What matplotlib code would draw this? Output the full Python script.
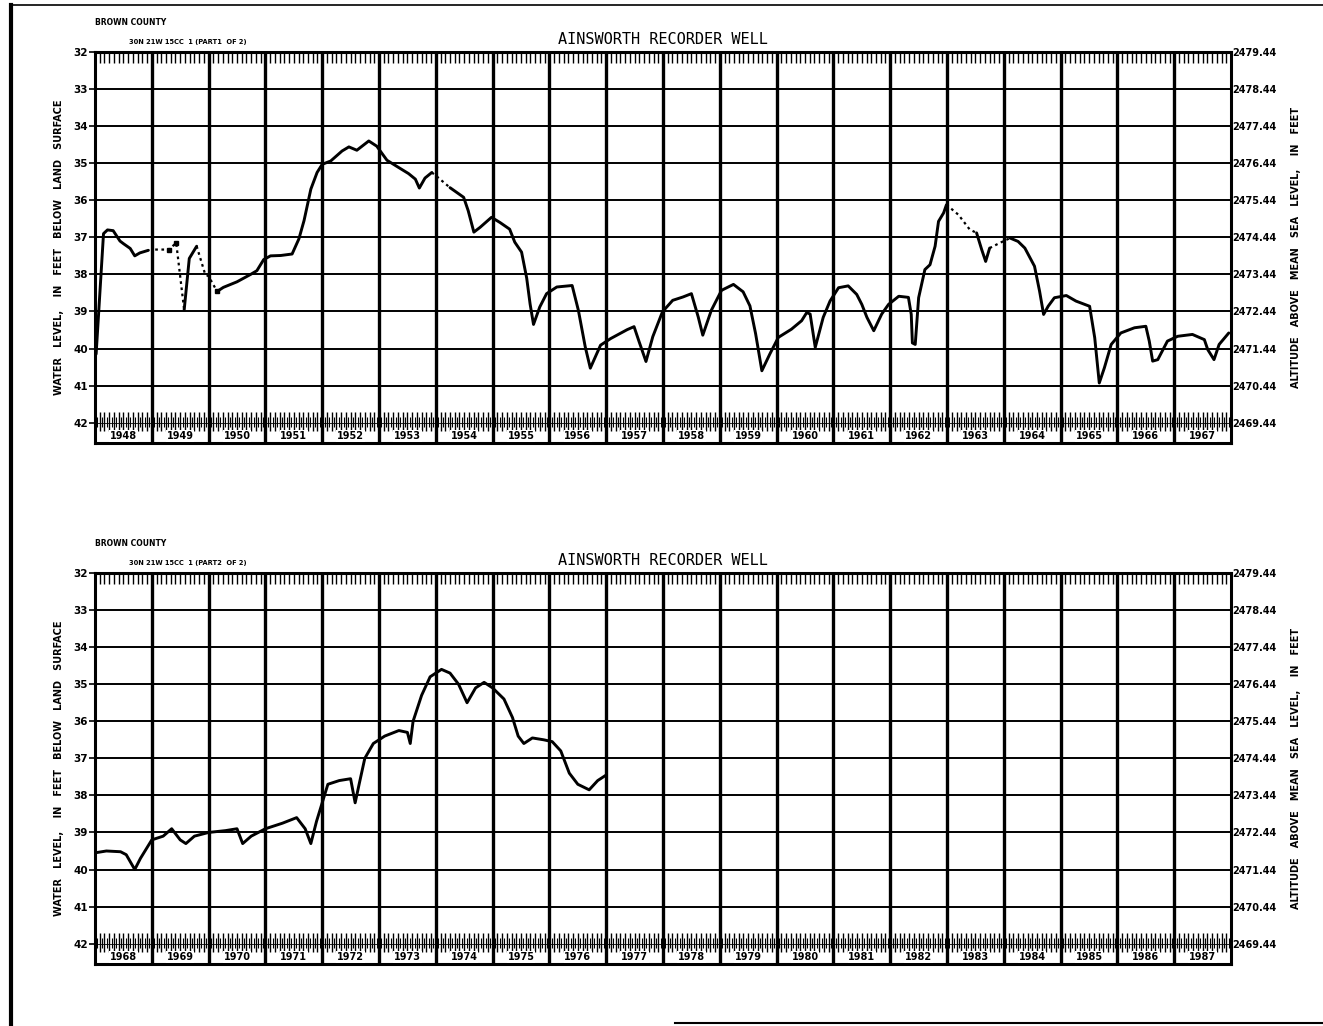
import numpy as np
import matplotlib
matplotlib.use('Agg')
import matplotlib.pyplot as plt

# water level, feet below land surface, Ainsworth recorder well
# part 1: 1948-1967
top_year = [1948.02, 1948.15, 1948.22, 1948.32, 1948.44, 1948.50, 1948.62, 1948.70, 1948.79, 1948.94,
            1949.06, 1949.30, 1949.43, 1949.57, 1949.66, 1949.79, 1949.94, 1950.00, 1950.15, 1950.26,
            1950.50, 1950.74, 1950.85, 1950.97, 1951.09, 1951.27, 1951.47, 1951.59, 1951.68, 1951.80,
            1951.91, 1952.00, 1952.15, 1952.35, 1952.47, 1952.61, 1952.82, 1952.96, 1953.14, 1953.35,
            1953.52, 1953.64, 1953.71, 1953.81, 1953.93, 1954.05, 1954.25, 1954.49, 1954.57, 1954.67,
            1954.78, 1954.98, 1955.13, 1955.30, 1955.39, 1955.51, 1955.60, 1955.66, 1955.72, 1955.83,
            1955.95, 1956.13, 1956.40, 1956.51, 1956.63, 1956.72, 1956.90, 1957.08, 1957.37, 1957.49,
            1957.58, 1957.70, 1957.82, 1957.99, 1958.17, 1958.35, 1958.50, 1958.62, 1958.70, 1958.85,
            1959.03, 1959.24, 1959.41, 1959.53, 1959.63, 1959.74, 1959.88, 1960.03, 1960.26, 1960.44,
            1960.53, 1960.59, 1960.68, 1960.82, 1960.94, 1961.09, 1961.26, 1961.41, 1961.50, 1961.59,
            1961.71, 1961.85, 1961.97, 1962.15, 1962.32, 1962.37, 1962.39, 1962.44, 1962.50, 1962.61,
            1962.70, 1962.79, 1962.85, 1962.94, 1962.99, 1963.20, 1963.40, 1963.52, 1963.61, 1963.68,
            1963.75, 1963.93, 1964.11, 1964.25, 1964.37, 1964.54, 1964.63, 1964.70, 1964.78, 1964.89,
            1965.10, 1965.27, 1965.51, 1965.60, 1965.68, 1965.77, 1965.89, 1966.06, 1966.30, 1966.50,
            1966.56, 1966.62, 1966.71, 1966.88, 1967.06, 1967.32, 1967.53, 1967.59, 1967.70, 1967.79,
            1967.96]
top_depth = [40.15, 36.90, 36.80, 36.82, 37.10, 37.17, 37.30, 37.50, 37.42, 37.35,
             37.33, 37.33, 37.15, 38.96, 37.57, 37.24, 38.00, 38.05, 38.46, 38.35,
             38.20, 38.00, 37.90, 37.60, 37.50, 37.49, 37.45, 37.04, 36.55, 35.70,
             35.25, 35.03, 34.94, 34.67, 34.56, 34.65, 34.40, 34.54, 34.92, 35.12,
             35.28, 35.43, 35.67, 35.40, 35.25, 35.40, 35.66, 35.92, 36.28, 36.86,
             36.73, 36.46, 36.60, 36.78, 37.13, 37.40, 38.10, 38.80, 39.35, 38.88,
             38.52, 38.34, 38.30, 38.97, 39.95, 40.53, 39.91, 39.73, 39.49, 39.41,
             39.82, 40.35, 39.68, 39.01, 38.70, 38.61, 38.52, 39.15, 39.64, 38.97,
             38.43, 38.27, 38.47, 38.85, 39.60, 40.60, 40.15, 39.70, 39.48, 39.25,
             39.03, 39.07, 39.97, 39.16, 38.72, 38.36, 38.31, 38.54, 38.81, 39.16,
             39.52, 39.07, 38.81, 38.59, 38.62, 39.08, 39.85, 39.89, 38.63, 37.87,
             37.74, 37.24, 36.57, 36.34, 36.12, 36.39, 36.79, 36.88, 37.33, 37.65,
             37.29, 37.15, 37.02, 37.11, 37.29, 37.78, 38.46, 39.08, 38.86, 38.63,
             38.57, 38.72, 38.86, 39.71, 40.93, 40.52, 39.89, 39.58, 39.44, 39.40,
             39.80, 40.34, 40.30, 39.80, 39.67, 39.62, 39.76, 40.03, 40.30, 39.89,
             39.58]
# spans with estimated (dotted) record, and spans with no record
top_dotted = [(1949.06, 1949.57), (1949.79, 1950.15), (1953.93, 1954.25),
              (1962.99, 1963.52), (1963.75, 1964.11)]
top_gaps = [(1948.94, 1949.06)]
top_marks_year = [1949.30, 1949.43, 1950.15]
top_marks_depth = [37.33, 37.15, 38.46]

# part 2: 1968-1987
bot_year = [1968.00, 1968.20, 1968.45, 1968.55, 1968.70, 1968.80, 1969.00, 1969.20, 1969.35, 1969.50,
            1969.60, 1969.75, 1970.00, 1970.30, 1970.50, 1970.60, 1970.75, 1971.00, 1971.30, 1971.55,
            1971.70, 1971.80, 1971.90, 1972.00, 1972.10, 1972.30, 1972.50, 1972.58, 1972.65, 1972.75,
            1972.90, 1973.10, 1973.35, 1973.50, 1973.55, 1973.60, 1973.75, 1973.90, 1974.10, 1974.25,
            1974.40, 1974.55, 1974.70, 1974.85, 1975.00, 1975.20, 1975.35, 1975.45, 1975.55, 1975.70,
            1975.90, 1976.05, 1976.20, 1976.35, 1976.50, 1976.70, 1976.85, 1977.00]
bot_depth = [39.55, 39.50, 39.52, 39.60, 40.00, 39.70, 39.20, 39.10, 38.90, 39.20,
             39.30, 39.10, 39.00, 38.95, 38.90, 39.30, 39.10, 38.90, 38.75, 38.60,
             38.90, 39.30, 38.70, 38.20, 37.70, 37.60, 37.55, 38.20, 37.70, 37.00,
             36.60, 36.40, 36.25, 36.30, 36.60, 36.00, 35.30, 34.80, 34.60, 34.70,
             35.00, 35.50, 35.10, 34.95, 35.10, 35.40, 35.90, 36.40, 36.60, 36.45,
             36.50, 36.55, 36.80, 37.40, 37.70, 37.85, 37.60, 37.45]
bot_dotted = []
bot_gaps = []

depth_ticks = list(range(32, 43))
datum = 2511.44  # land-surface altitude, feet above sea level


def draw_record(ax, years, depths, dotted, gaps):
    years = np.asarray(years)
    depths = np.asarray(depths)
    mids = (years[:-1] + years[1:]) / 2

    def kind(m):
        for a, b in gaps:
            if a <= m <= b:
                return 'gap'
        for a, b in dotted:
            if a <= m <= b:
                return 'dot'
        return 'solid'

    kinds = [kind(m) for m in mids]
    start = 0
    for i in range(1, len(kinds) + 1):
        if i == len(kinds) or kinds[i] != kinds[start]:
            seg = slice(start, i + 1)
            if kinds[start] == 'solid':
                ax.plot(years[seg], depths[seg], color='black', lw=2.1,
                        solid_capstyle='round', zorder=5)
            elif kinds[start] == 'dot':
                ax.plot(years[seg], depths[seg], color='black', lw=1.6,
                        linestyle=(0, (1.2, 1.6)), zorder=5)
            start = i


def draw_panel(ax, first_year, part):
    years = np.arange(first_year, first_year + 20)
    x0, x1 = first_year, first_year + 20
    ax.set_xlim(x0, x1)
    ax.set_ylim(42.55, 32)

    # feet grid
    for d in range(33, 42):
        ax.axhline(d, color='black', lw=1.4, zorder=2)
    # year grid
    for y in years[1:]:
        ax.axvline(y, color='black', lw=2.4, zorder=3)

    # month ticks along top and bottom
    months = np.array([y + m / 12 for y in years for m in range(1, 12)])
    ax.vlines(months, 32, 32.3, color='black', lw=1.0, zorder=2)
    ax.vlines(months, 41.72, 42.22, color='black', lw=1.0, zorder=2)
    half = np.array([y + (m + 0.5) / 12 for y in years for m in range(12)])
    ax.vlines(half, 41.86, 42.12, color='black', lw=0.8, zorder=2)
    ax.axhline(42.0, color='black', lw=0.6, zorder=2, xmin=0, xmax=1)

    for y in years:
        ax.text(y + 0.5, 42.36, str(y), ha='center', va='center', fontsize=7,
                fontweight='bold', family='DejaVu Sans', zorder=6,
                bbox=dict(facecolor='white', edgecolor='none', pad=0.5))

    ax.set_xticks([])
    ax.set_yticks(depth_ticks)
    ax.set_yticklabels([str(d) for d in depth_ticks], fontsize=7.5, fontweight='bold')
    ax.tick_params(axis='y', length=4, width=1.2, pad=1, direction='out')
    for s in ax.spines.values():
        s.set_linewidth(2.2)

    sec = ax.secondary_yaxis('right', functions=(lambda d: datum - d, lambda a: datum - a))
    alt_ticks = [datum - d for d in depth_ticks]
    sec.set_yticks(alt_ticks)
    sec.set_yticklabels([f'{a:.2f}' for a in alt_ticks], fontsize=7, fontweight='bold')
    sec.tick_params(length=0, pad=1)
    sec.spines['right'].set_visible(False)

    ax.set_ylabel('WATER   LEVEL,    IN   FEET   BELOW   LAND   SURFACE',
                  fontsize=7, fontweight='bold', labelpad=7)
    sec.set_ylabel('ALTITUDE   ABOVE   MEAN   SEA   LEVEL,    IN   FEET',
                   fontsize=7, fontweight='bold', labelpad=10)

    ax.set_title('AINSWORTH RECORDER WELL', fontsize=11, fontweight='normal',
                 family='DejaVu Sans Mono', pad=6)
    ax.text(0.0, 1.075, 'BROWN COUNTY', transform=ax.transAxes, fontsize=5.5,
            fontweight='bold', ha='left', va='center')
    ax.text(0.03, 1.025, f'30N 21W 15CC  1 (PART{part}  OF 2)', transform=ax.transAxes,
            fontsize=4.8, fontweight='bold', ha='left', va='center')


fig = plt.figure(figsize=(13.23, 10.26), dpi=100)
ax1 = fig.add_axes([0.0718, 0.5682, 0.8587, 0.3811])
ax2 = fig.add_axes([0.0718, 0.0604, 0.8587, 0.3811])

draw_panel(ax1, 1948, 1)
draw_record(ax1, top_year, top_depth, top_dotted, top_gaps)
ax1.plot(top_marks_year, top_marks_depth, 's', color='black', ms=3.5, zorder=6)

draw_panel(ax2, 1968, 2)
draw_record(ax2, bot_year, bot_depth, bot_dotted, bot_gaps)

# page frame
fig.add_artist(plt.Line2D([0.008, 0.008], [0.0, 0.995], color='black', lw=3.0))
fig.add_artist(plt.Line2D([0.008, 1.0], [0.995, 0.995], color='black', lw=1.2))
fig.add_artist(plt.Line2D([0.51, 1.0], [0.003, 0.003], color='black', lw=1.5))

fig.savefig('out.png', dpi=100)
